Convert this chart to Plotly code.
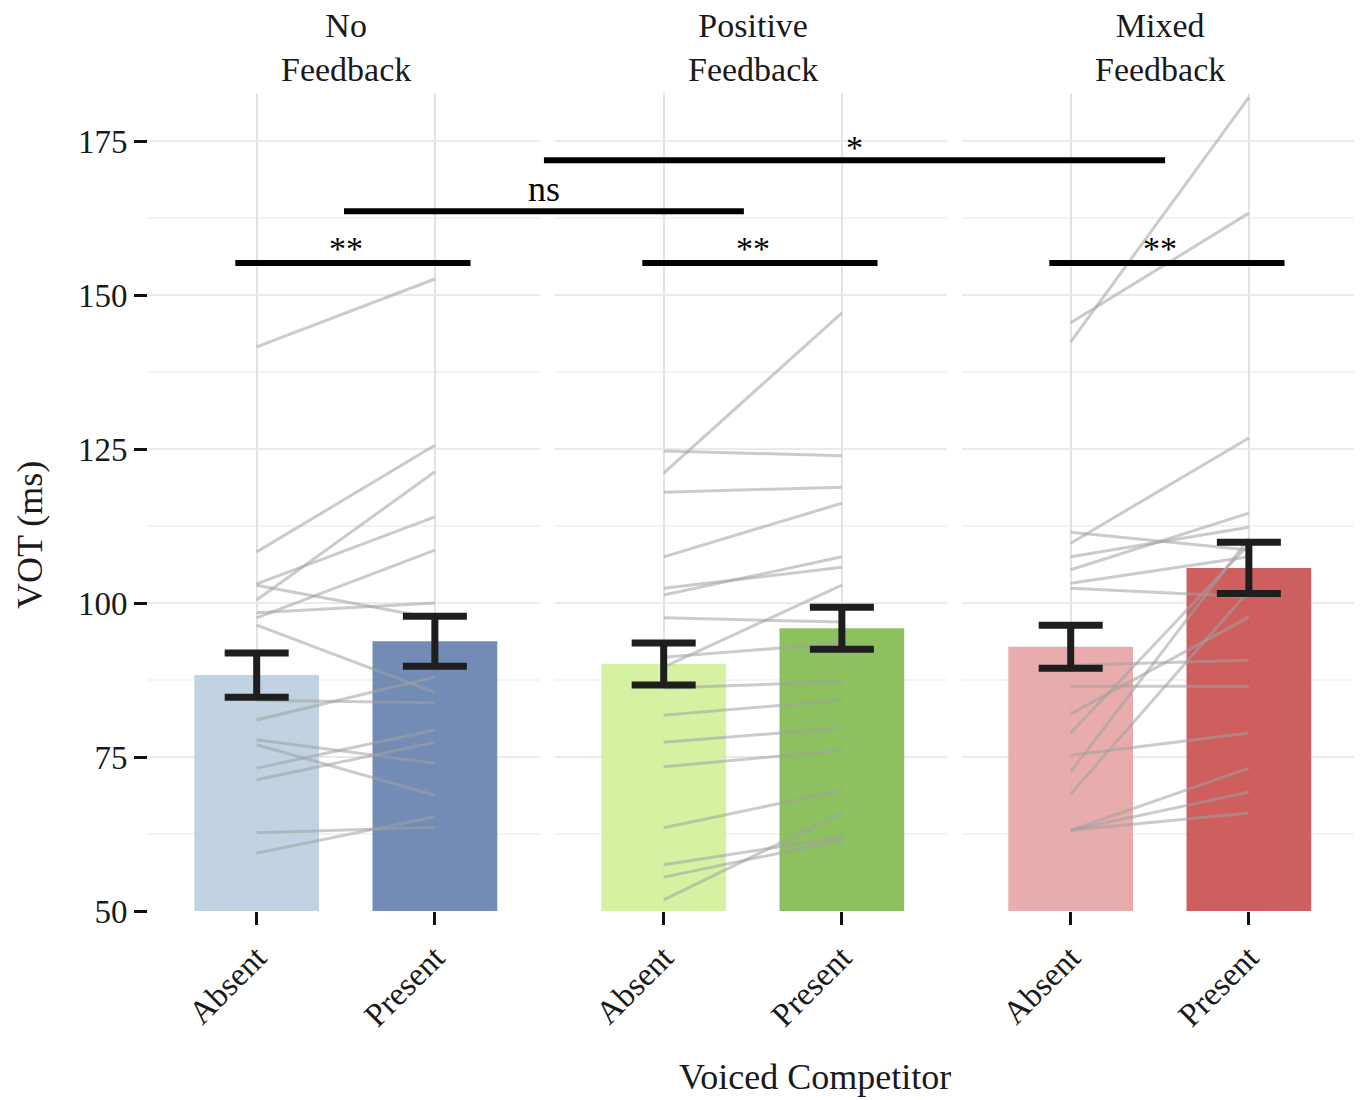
import plotly.graph_objects as go

# ---------------- data ----------------
panels = ["No<br>Feedback", "Positive<br>Feedback", "Mixed<br>Feedback"]
conditions = ["Absent", "Present"]

bar_means = {
    "No": [88.3, 93.8],
    "Positive": [90.1, 95.9],
    "Mixed": [92.9, 105.7],
}
bar_se = {
    "No": [3.6, 4.05],
    "Positive": [3.4, 3.4],
    "Mixed": [3.5, 4.15],
}
bar_colors = {
    "No": ["#bccfe0", "#6783b0"],
    "Positive": ["#d2f09a", "#83bc52"],
    "Mixed": ["#e8a6a6", "#cb5252"],
}

# per-participant values (Absent, Present)
no_absent = [141.6, 108.3, 103.1, 100.5, 97.6, 98.4, 96.4, 102.9, 84.2, 81.0, 77.8, 77.0, 73.2, 71.3, 62.7, 59.4]
no_present = [152.6, 125.6, 114.0, 121.3, 108.6, 100.0, 85.5, 97.5, 83.8, 88.0, 74.0, 68.8, 79.4, 77.4, 63.6, 65.3]

pos_absent = [121.1, 124.7, 118.0, 107.5, 102.4, 101.3, 97.6, 91.2, 89.6, 86.2, 81.8, 77.4, 73.4, 63.5, 57.5, 51.8, 55.5]
pos_present = [147.1, 123.9, 118.8, 116.2, 105.8, 107.5, 96.9, 93.5, 102.9, 87.2, 84.2, 79.7, 76.1, 69.6, 62.0, 65.9, 61.5]

mix_absent = [142.4, 145.5, 109.7, 111.5, 107.5, 105.4, 103.2, 102.4, 89.9, 86.5, 78.9, 75.3, 72.6, 63.1, 63.1, 63.1, 82.0, 69.0]
mix_present = [182.1, 163.3, 126.8, 108.6, 112.3, 114.6, 107.5, 101.0, 90.7, 86.5, 109.5, 78.9, 110.5, 73.2, 69.3, 65.9, 97.7, 102.0]

participants = {
    "No": (no_absent, no_present),
    "Positive": (pos_absent, pos_present),
    "Mixed": (mix_absent, mix_present),
}

y_ticks = [50, 75, 100, 125, 150, 175]
y_range = [50, 182.8]

# significance annotations: (label, y value)
sig_within = ["**", "**", "**"]
sig_within_y = 155.2
sig_ns_label, sig_ns_y = "ns", 163.6
sig_star_label, sig_star_y = "*", 171.9

# ---------------- layout geometry ----------------
OFF = 8  # page body margin
W, H = 1363 - OFF, 1100 - OFF
ml, mt = 148 - OFF, 93 - OFF
plot_bottom = 911 - OFF
mb = H - plot_bottom
panel_px, gap_px = 392, 15
plot_w = 3 * panel_px + 2 * gap_px
mr = W - ml - plot_w
plot_h = H - mt - mb
x_range = [0.39, 2.59]
keys = ["No", "Positive", "Mixed"]

domains = []
for i in range(3):
    a = i * (panel_px + gap_px) / plot_w
    b = (i * (panel_px + gap_px) + panel_px) / plot_w
    domains.append([a, min(b, 1.0)])


def to_paper(panel, x):
    d0, d1 = domains[panel]
    return d0 + (x - x_range[0]) / (x_range[1] - x_range[0]) * (d1 - d0)


serif = "Liberation Serif, Times New Roman, serif"
fig = go.Figure()

for i, k in enumerate(keys):
    xa = "x" if i == 0 else f"x{i+1}"
    a_vals, p_vals = participants[k]
    lx, ly = [], []
    for a, p in zip(a_vals, p_vals):
        lx += [1, 2, None]
        ly += [a, p, None]
    fig.add_trace(go.Scatter(
        x=lx, y=ly, mode="lines", xaxis=xa, yaxis="y",
        line=dict(color="rgba(160,160,160,0.55)", width=3),
        hoverinfo="skip", showlegend=False,
    ))
    fig.add_trace(go.Bar(
        x=[1, 2], y=[m - y_range[0] for m in bar_means[k]], base=y_range[0],
        width=0.7, xaxis=xa, yaxis="y",
        marker=dict(color=bar_colors[k], line=dict(width=0)), opacity=0.92,
        showlegend=False,
    ))
    fig.add_trace(go.Scatter(
        x=[1, 2], y=bar_means[k], mode="markers", xaxis=xa, yaxis="y",
        marker=dict(size=0.1, color="rgba(0,0,0,0)"),
        error_y=dict(type="data", array=bar_se[k], color="#1e1e1e", thickness=7, width=32),
        showlegend=False, hoverinfo="skip",
    ))

grid_col = "#ebebeb"
layout = dict(
    width=W, height=H,
    margin=dict(l=ml, r=mr, t=mt, b=mb),
    plot_bgcolor="white", paper_bgcolor="white",
    font=dict(family=serif, color="#1a1a1a", size=32),
    bargap=0.3,
    yaxis=dict(
        range=y_range, tickvals=y_ticks, showgrid=True, gridcolor=grid_col, gridwidth=2,
        minor=dict(dtick=12.5, tick0=50, showgrid=True, gridcolor="#f3f3f3", gridwidth=2),
        ticks="outside", ticklen=13, tickwidth=3, tickcolor="#111",
        tickfont=dict(size=33, family=serif, color="#1a1a1a"),
        zeroline=False, showline=False, anchor="x",
    ),
)
for i in range(3):
    name = "xaxis" if i == 0 else f"xaxis{i+1}"
    layout[name] = dict(
        domain=domains[i], range=x_range, tickvals=[1, 2], ticktext=conditions,
        tickangle=-45, ticks="outside", ticklen=13, tickwidth=3, tickcolor="#111",
        tickfont=dict(size=33, family=serif, color="#1a1a1a"),
        showgrid=True, gridcolor="#e3e3e3", gridwidth=1.5,
        zeroline=False, showline=False, anchor="y",
    )
fig.update_layout(**layout)

shapes, annotations = [], []
# facet titles
for i, t in enumerate(panels):
    annotations.append(dict(
        text=t, x=to_paper(i, 1.5), y=1, xref="paper", yref="paper",
        xanchor="center", yanchor="bottom", yshift=3, showarrow=False,
        font=dict(size=34, family=serif, color="#1a1a1a"),
    ))
# within-panel brackets
for i, lab in enumerate(sig_within):
    x0, x1 = to_paper(i, 0.88), to_paper(i, 2.2)
    shapes.append(dict(type="line", xref="paper", yref="y", x0=x0, x1=x1,
                       y0=sig_within_y, y1=sig_within_y, line=dict(color="black", width=6)))
    annotations.append(dict(text=lab, x=to_paper(i, 1.5), y=sig_within_y, xref="paper", yref="y",
                            xanchor="center", yanchor="bottom", yshift=-6, showarrow=False,
                            font=dict(size=34, family=serif, color="black")))
# ns bracket (No vs Positive)
ns_x0, ns_x1 = to_paper(0, 1.49), to_paper(1, 1.45)
shapes.append(dict(type="line", xref="paper", yref="y", x0=ns_x0, x1=ns_x1,
                   y0=sig_ns_y, y1=sig_ns_y, line=dict(color="black", width=6)))
annotations.append(dict(text=sig_ns_label, x=(ns_x0 + ns_x1) / 2, y=sig_ns_y, xref="paper", yref="y",
                        xanchor="center", yanchor="bottom", yshift=0, showarrow=False,
                        font=dict(size=36, family=serif, color="black")))
# * bracket (No/Positive vs Mixed)
st_x0, st_x1 = (ns_x0 + ns_x1) / 2, to_paper(2, 1.53)
shapes.append(dict(type="line", xref="paper", yref="y", x0=st_x0, x1=st_x1,
                   y0=sig_star_y, y1=sig_star_y, line=dict(color="black", width=6)))
annotations.append(dict(text=sig_star_label, x=(st_x0 + st_x1) / 2, y=sig_star_y, xref="paper", yref="y",
                        xanchor="center", yanchor="bottom", yshift=-8, showarrow=False,
                        font=dict(size=34, family=serif, color="black")))
# axis titles (reference page pixel positions converted to paper coords)
annotations.append(dict(text="VOT (ms)", x=(30 - OFF - ml) / plot_w, y=(plot_bottom - (535 - OFF)) / plot_h,
                        xref="paper", yref="paper", textangle=-90, showarrow=False,
                        xanchor="center", yanchor="middle",
                        font=dict(size=36, family=serif, color="#1a1a1a")))
annotations.append(dict(text="Voiced Competitor", x=(815 - OFF - ml) / plot_w, y=-((1077 - OFF) - plot_bottom) / plot_h,
                        xref="paper", yref="paper", showarrow=False,
                        xanchor="center", yanchor="middle",
                        font=dict(size=36, family=serif, color="#1a1a1a")))
fig.update_layout(shapes=shapes, annotations=annotations)

fig.write_html("out.html")
